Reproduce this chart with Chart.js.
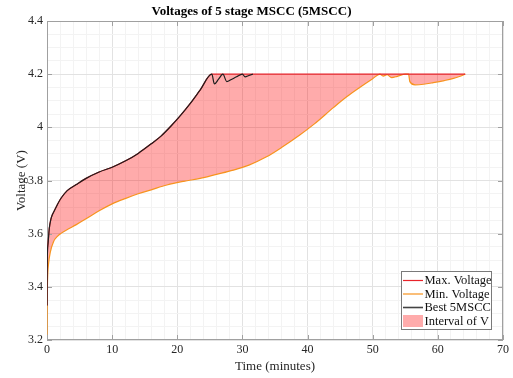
<!DOCTYPE html>
<html>
<head>
<meta charset="utf-8">
<script src="https://cdn.jsdelivr.net/npm/chart.js@4.4.1/dist/chart.umd.min.js"></script>
<style>
  html, body { margin: 0; padding: 0; background: #fff; }
</style>
</head>
<body>
<canvas id="chart" width="513" height="378"></canvas>
<script>
// values
const maxT = [0, 0.02, 0.15, 0.35, 0.6, 0.8, 1.2, 1.6, 2.2, 3.1, 4.5, 6, 8, 10, 12, 14, 16, 17.5, 19, 20.5, 22, 23.5, 25.3, 64.2];
const maxV = [3.33, 3.47, 3.56, 3.62, 3.655, 3.67, 3.69, 3.71, 3.735, 3.762, 3.785, 3.808, 3.832, 3.85, 3.873, 3.902, 3.938, 3.967, 4.004, 4.045, 4.09, 4.14, 4.2, 4.2];

const minT = [0, 0.02, 0.06, 0.12, 0.25, 0.5, 1.0, 1.6, 2.2, 3, 4.5, 6, 8, 10, 12, 14, 16, 18.4, 21, 23.5, 26, 28.6, 31, 33.7, 36, 38.8, 41, 44, 46, 48, 50, 51.1, 51.6, 52.2, 52.9, 53.8, 55.0, 55.5, 55.7, 56.5, 57.8, 59.3, 61, 62.4, 63.3, 64.2];
const minV = [3.22, 3.33, 3.40, 3.45, 3.49, 3.53, 3.57, 3.59, 3.602, 3.614, 3.634, 3.656, 3.686, 3.712, 3.732, 3.75, 3.765, 3.783, 3.797, 3.808, 3.823, 3.839, 3.858, 3.889, 3.924, 3.971, 4.012, 4.075, 4.115, 4.15, 4.183, 4.2, 4.193, 4.198, 4.187, 4.192, 4.2, 4.2, 4.172, 4.16, 4.162, 4.168, 4.176, 4.184, 4.191, 4.2];

const bestT = [0, 0.02, 0.15, 0.35, 0.6, 0.8, 1.2, 1.6, 2.2, 3.1, 4.5, 6, 8, 10, 12, 14, 16, 17.5, 19, 20.5, 22, 23.5, 25.3, 25.7, 26.3, 27.0, 27.6, 28.3, 29.1, 30.0, 30.4, 31.0, 31.6];
const bestV = [3.33, 3.47, 3.56, 3.62, 3.655, 3.67, 3.69, 3.71, 3.735, 3.762, 3.785, 3.808, 3.832, 3.85, 3.873, 3.902, 3.938, 3.967, 4.004, 4.045, 4.09, 4.14, 4.2, 4.163, 4.18, 4.2, 4.172, 4.18, 4.19, 4.2, 4.19, 4.195, 4.2];

const xTicks = [0, 10, 20, 30, 40, 50, 60, 70];
const yTicks = [3.2, 3.4, 3.6, 3.8, 4.0, 4.2, 4.4];
const seriesNames = ["Max. Voltage", "Min. Voltage", "Best 5MSCC", "Interval of V"];

const FONT = "'Liberation Serif', 'Times New Roman', serif";
const maxColor = "#e8232a";
const minColor = "#f7931e";
const bestColor = "#1e1e1e";
const fillColor = "rgba(255, 0, 0, 0.33)";

function toPoints(ts, vs) {
  return ts.map((t, i) => ({ x: t, y: vs[i] }));
}

function isMajor(v, step) {
  return Math.abs(v / step - Math.round(v / step)) < 1e-6;
}

// box and inward ticks under the lines, legend on top (MATLAB style)
const framePlugin = {
  id: "frame",
  beforeDatasetsDraw(chart) {
    const { ctx, chartArea: a, scales } = chart;
    ctx.save();
    ctx.strokeStyle = "#a0a0a0";
    ctx.lineWidth = 1;
    ctx.strokeRect(a.left + 0.5, a.top + 0.5, a.right - a.left - 1, a.bottom - a.top - 1);

    ctx.beginPath();
    xTicks.forEach((v) => {
      const x = Math.round(scales.x.getPixelForValue(v)) + 0.5;
      ctx.moveTo(x, a.bottom); ctx.lineTo(x, a.bottom - 5);
      ctx.moveTo(x, a.top); ctx.lineTo(x, a.top + 5);
    });
    yTicks.forEach((v) => {
      const y = Math.round(scales.y.getPixelForValue(v)) + 0.5;
      ctx.moveTo(a.left, y); ctx.lineTo(a.left + 5, y);
      ctx.moveTo(a.right, y); ctx.lineTo(a.right - 5, y);
    });
    ctx.stroke();
    ctx.restore();
  },
  afterDraw(chart) {
    const { ctx } = chart;
    ctx.save();
    const bx = 401, by = 271, bw = 90, bh = 58;
    ctx.fillStyle = "#fff";
    ctx.fillRect(bx, by, bw, bh);
    ctx.strokeStyle = "#7a7a7a";
    ctx.lineWidth = 1;
    ctx.strokeRect(bx + 0.5, by + 0.5, bw, bh);

    const colors = [maxColor, minColor, "#444", fillColor];
    ctx.font = "12.5px " + FONT;
    ctx.textBaseline = "middle";
    ctx.textAlign = "left";
    seriesNames.forEach((name, i) => {
      const y = by + 9.5 + i * 13.5;
      if (i < 3) {
        ctx.strokeStyle = colors[i];
        ctx.lineWidth = i === 2 ? 1.6 : 1.2;
        ctx.beginPath();
        ctx.moveTo(bx + 2, y);
        ctx.lineTo(bx + 22, y);
        ctx.stroke();
      } else {
        ctx.fillStyle = colors[i];
        ctx.fillRect(bx + 2, y - 6, 20, 12);
      }
      ctx.fillStyle = "#111";
      ctx.fillText(name, bx + 23.5, y + 0.5);
    });
    ctx.restore();
  },
};

const ctx = document.getElementById("chart");

new Chart(ctx, {
  type: "line",
  data: {
    datasets: [
      {
        label: seriesNames[0],
        data: toPoints(maxT, maxV),
        borderColor: maxColor,
        backgroundColor: fillColor,
        borderWidth: 1.2,
        fill: { target: 1 },
        order: 1,
      },
      {
        label: seriesNames[1],
        data: toPoints(minT, minV),
        borderColor: minColor,
        borderWidth: 1.2,
        fill: false,
        order: 2,
      },
      {
        label: seriesNames[2],
        data: toPoints(bestT, bestV),
        borderColor: bestColor,
        borderWidth: 1.2,
        fill: false,
        order: 0,
      },
    ],
  },
  options: {
    responsive: false,
    animation: false,
    events: [],
    elements: {
      point: { radius: 0 },
      line: { cubicInterpolationMode: "monotone" },
    },
    layout: { padding: { left: 0, right: 10, top: 0, bottom: 0 } },
    plugins: {
      legend: { display: false },
      tooltip: { enabled: false },
      filler: { drawTime: "beforeDatasetsDraw" },
      title: {
        display: true,
        text: "Voltages of 5 stage MSCC (5MSCC)",
        color: "#000",
        font: { family: FONT, size: 13, weight: "bold" },
        padding: { top: 4, bottom: 1.4 },
      },
    },
    scales: {
      x: {
        type: "linear",
        min: 0,
        max: 70,
        afterFit: (s) => { s.height = 38; },
        ticks: {
          stepSize: 2,
          autoSkip: false,
          maxRotation: 0,
          padding: 3,
          color: "#262626",
          font: { family: FONT, size: 12 },
          callback: (v) => (isMajor(v, 10) ? String(v) : ""),
        },
        grid: {
          drawTicks: false,
          color: (c) => (c.tick && isMajor(c.tick.value, 10) ? "#e2e2e2" : "#f3f3f3"),
        },
        border: { display: false },
        title: {
          display: true,
          text: "Time (minutes)",
          color: "#262626",
          font: { family: FONT, size: 13 },
          padding: { top: 0, bottom: 4 },
        },
      },
      y: {
        type: "linear",
        min: 3.2,
        max: 4.4,
        afterFit: (s) => { s.width = 47; },
        ticks: {
          stepSize: 0.05,
          autoSkip: false,
          padding: 4,
          color: "#262626",
          font: { family: FONT, size: 12 },
          callback: (v) => (isMajor(v, 0.2) ? String(Math.round(v * 10) / 10) : ""),
        },
        grid: {
          drawTicks: false,
          color: (c) => (c.tick && isMajor(c.tick.value, 0.2) ? "#e2e2e2" : "#f3f3f3"),
        },
        border: { display: false },
        title: {
          display: true,
          text: "Voltage (V)",
          color: "#262626",
          font: { family: FONT, size: 13 },
          padding: { top: 14, bottom: 0 },
        },
      },
    },
  },
  plugins: [framePlugin],
});
</script>
</body>
</html>
